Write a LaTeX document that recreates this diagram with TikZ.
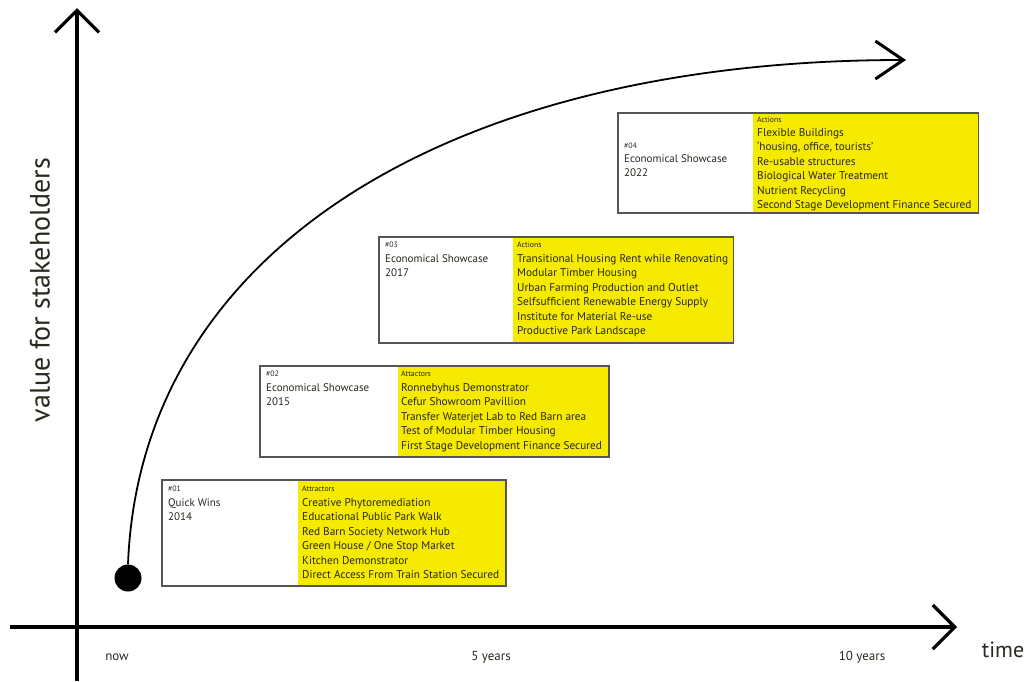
\documentclass[tikz,border=0pt]{standalone}
\usepackage{fontspec}
\setmainfont{PT Sans}
\usetikzlibrary{arrows.meta}
\definecolor{boxyellow}{RGB}{246,234,0}
\definecolor{boxborder}{RGB}{85,85,85}
\definecolor{txt}{RGB}{40,40,30}
\tikzset{
  axis/.style={line width=3.2pt, -{Straight Barb[length=22pt,width=44pt,line width=3.2pt]}},
  growth/.style={line width=1.8pt, -{Straight Barb[length=28pt,width=38pt,line width=3pt]}},
  framebox/.style={draw=boxborder, line width=1.3pt, fill=white, anchor=north west, inner sep=0pt},
  yellowbox/.style={fill=boxyellow, anchor=north west, inner sep=0pt},
  lefttext/.style={anchor=north west, inner sep=0pt, align=left, text=txt, font=\fontsize{11}{14.5}\selectfont},
  righttext/.style={anchor=north west, inner sep=0pt, align=left, text=txt, font=\fontsize{11.3}{14.5}\selectfont},
  small/.style={anchor=north west, inner sep=0pt, text=txt, font=\fontsize{7.8}{9}\selectfont},
  ticklabel/.style={anchor=center, inner sep=0pt, text=txt, font=\fontsize{13}{15}\selectfont},
}
\begin{document}
\begin{tikzpicture}[x=1pt, y=-1pt]
\useasboundingbox (0,0) rectangle (1030,681);
% axes
\coordinate (yb) at (77,681);
\coordinate (yt) at (77,8);
\coordinate (xl) at (10,627);
\coordinate (xr) at (957,627);
\draw[axis] (yb) -- (yt);
\draw[axis] (xl) -- (xr);
% axis labels
\node[rotate=90, font=\fontsize{28}{32}\selectfont, text=txt, inner sep=0pt] (ylab) at (40,290) {value for stakeholders};
\node[font=\fontsize{22}{26}\selectfont, text=txt, inner sep=0pt] (time) at (1003,650) {time};
\node[ticklabel] (now) at (117,657) {now};
\node[ticklabel] (five) at (491,657) {5 years};
\node[ticklabel] (ten) at (862,657) {10 years};
% growth curve
\node[circle, fill=black, minimum size=27pt, inner sep=0pt] (dot) at (128,578) {};
\coordinate (tip) at (906,60);
\draw[growth] (dot.north) .. controls (140,250) and (450,60) .. (tip);
% box 1
\node[framebox, minimum width=343pt, minimum height=105pt] (b1) at (162,480) {};
\node[yellowbox, minimum width=207pt, minimum height=104pt] (y1) at (297.5,480.6) {};
\draw[boxborder, line width=1.3pt] (b1.north west) rectangle (b1.south east);
\node[small] (b1n) at (168,486) {\#01};
\node[lefttext] (b1t) at (168,498) {Quick Wins\\2014};
\node[small] (y1h) at (302,486) {Attractors};
\node[righttext] (y1t) at (302,498) {Creative Phytoremediation\\Educational Public Park Walk\\Red Barn Society Network Hub\\Green House / One Stop Market\\Kitchen Demonstrator\\Direct Access From Train Station Secured};
% box 2
\node[framebox, minimum width=348pt, minimum height=90pt] (b2) at (260,366) {};
\node[yellowbox, minimum width=210pt, minimum height=89pt] (y2) at (397.5,366.6) {};
\draw[boxborder, line width=1.3pt] (b2.north west) rectangle (b2.south east);
\node[small] (b2n) at (266,371) {\#02};
\node[lefttext] (b2t) at (266,383) {Economical Showcase\\2015};
\node[small] (y2h) at (401,371) {Attactors};
\node[righttext] (y2t) at (401,383) {Ronnebyhus Demonstrator\\Cefur Showroom Pavillion\\Transfer Waterjet Lab to Red Barn area\\Test of Modular Timber Housing\\First Stage Development Finance Secured};
% box 3
\node[framebox, minimum width=353pt, minimum height=105pt] (b3) at (379,237) {};
\node[yellowbox, minimum width=220pt, minimum height=104pt] (y3) at (512.5,237.6) {};
\draw[boxborder, line width=1.3pt] (b3.north west) rectangle (b3.south east);
\node[small] (b3n) at (385,242) {\#03};
\node[lefttext] (b3t) at (385,254) {Economical Showcase\\2017};
\node[small] (y3h) at (517,242) {Actions};
\node[righttext] (y3t) at (517,254) {Transitional Housing Rent while Renovating\\Modular Timber Housing\\Urban Farming Production and Outlet\\Selfsufficient Renewable Energy Supply\\Institute for Material Re-use\\Productive Park Landscape};
% box 4
\node[framebox, minimum width=359pt, minimum height=99pt] (b4) at (618,113) {};
\node[yellowbox, minimum width=225pt, minimum height=98pt] (y4) at (752.5,113.6) {};
\draw[boxborder, line width=1.3pt] (b4.north west) rectangle (b4.south east);
\node[small] (b4n) at (624,143) {\#04};
\node[lefttext] (b4t) at (624,154) {Economical Showcase\\2022};
\node[small] (y4h) at (757,117) {Actions};
\node[righttext] (y4t) at (757,128) {Flexible Buildings\\`housing, office, tourists'\\Re-usable structures\\Biological Water Treatment\\Nutrient Recycling\\Second Stage Development Finance Secured};
\end{tikzpicture}
\end{document}
